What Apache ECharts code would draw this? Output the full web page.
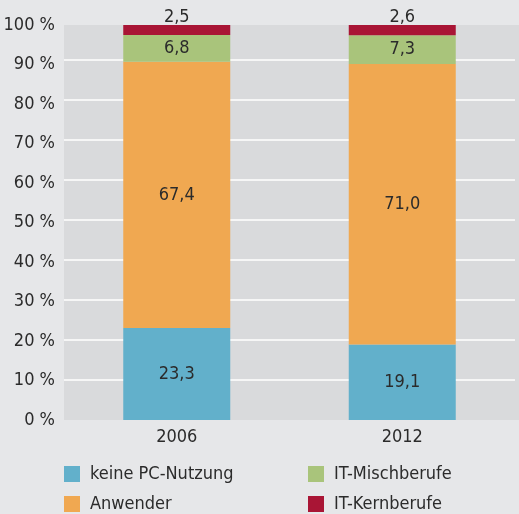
<!DOCTYPE html>
<html>
<head>
<meta charset="utf-8">
<script src="https://cdn.jsdelivr.net/npm/echarts@6/dist/echarts.min.js"></script>
<style>
    html, body { margin: 0; padding: 0; background: #e6e7e9; }
    #chart { width: 519px; height: 514px; }
</style>
</head>
<body>
<div id="chart"></div>
<script>
/*数据*/
var years = ['2006', '2012'];
var keinePC = [23.3, 19.1];
var anwender = [67.4, 71.0];
var itMisch = [6.8, 7.3];
var itKern = [2.5, 2.6];

var fontName = "'DejaVu Sans Condensed', 'Liberation Sans Narrow', sans-serif";
var textColor = '#2b2b2b';

function fmt(p) {
    return p.value.toFixed(1).replace('.', ',');
}

function makeSeries(name, data, color, pos, dist) {
    return {
        name: name,
        type: 'bar',
        stack: 'total',
        barWidth: 107,
        data: data,
        itemStyle: { color: color },
        label: {
            show: true,
            position: pos,
            formatter: fmt,
            color: textColor,
            fontSize: 18,
            fontFamily: fontName,
            distance: dist
        }
    };
}

/*图例：每个条目一个组件，排成两列*/
function makeLegend(name, left, top) {
    return {
        left: left,
        top: top,
        itemWidth: 16,
        itemHeight: 16,
        icon: 'rect',
        textStyle: { color: textColor, fontSize: 18, fontFamily: fontName, padding: [0, 0, 0, 5] },
        data: [name]
    };
}

var myChart = echarts.init(document.getElementById('chart'));
var option = {
    backgroundColor: '#e6e7e9',
    textStyle: { fontFamily: fontName },
    graphic: [{
        type: 'rect',
        z: -10,
        shape: { x: 64, y: 25, width: 455, height: 395 },
        style: { fill: '#d9dadc' }
    }],
    grid: { left: 64, right: 4, top: 25, bottom: 94 },
    xAxis: {
        type: 'category',
        data: years,
        axisLine: { show: false },
        axisTick: { show: false },
        axisLabel: { color: textColor, fontSize: 18, margin: 8 }
    },
    yAxis: [{
        type: 'value',
        min: 0,
        max: 100,
        interval: 10,
        axisLabel: { formatter: '{value} %', color: textColor, fontSize: 18, margin: 9 },
        splitLine: { show: false }
    }, {
        // 原图的网格线间距略大于刻度间距，单独用一个隐藏轴画
        type: 'value',
        position: 'left',
        min: 0,
        max: 98.75,
        interval: 10,
        axisLabel: { show: false },
        axisLine: { show: false },
        axisTick: { show: false },
        splitLine: { showMinLine: false, showMaxLine: false, lineStyle: { color: '#ffffff', width: 1.5 } }
    }],
    legend: [
        makeLegend('keine PC-Nutzung', 59, 460),
        makeLegend('Anwender', 59, 490),
        makeLegend('IT-Mischberufe', 303, 460),
        makeLegend('IT-Kernberufe', 303, 490)
    ],
    series: [
        makeSeries('keine PC-Nutzung', keinePC, '#62b0cb', 'inside', 5),
        makeSeries('Anwender', anwender, '#f0a851', 'inside', 5),
        makeSeries('IT-Mischberufe', itMisch, '#a9c47b', 'inside', 5),
        makeSeries('IT-Kernberufe', itKern, '#a91535', 'top', -1)
    ]
};
myChart.setOption(option);
</script>
</body>
</html>
